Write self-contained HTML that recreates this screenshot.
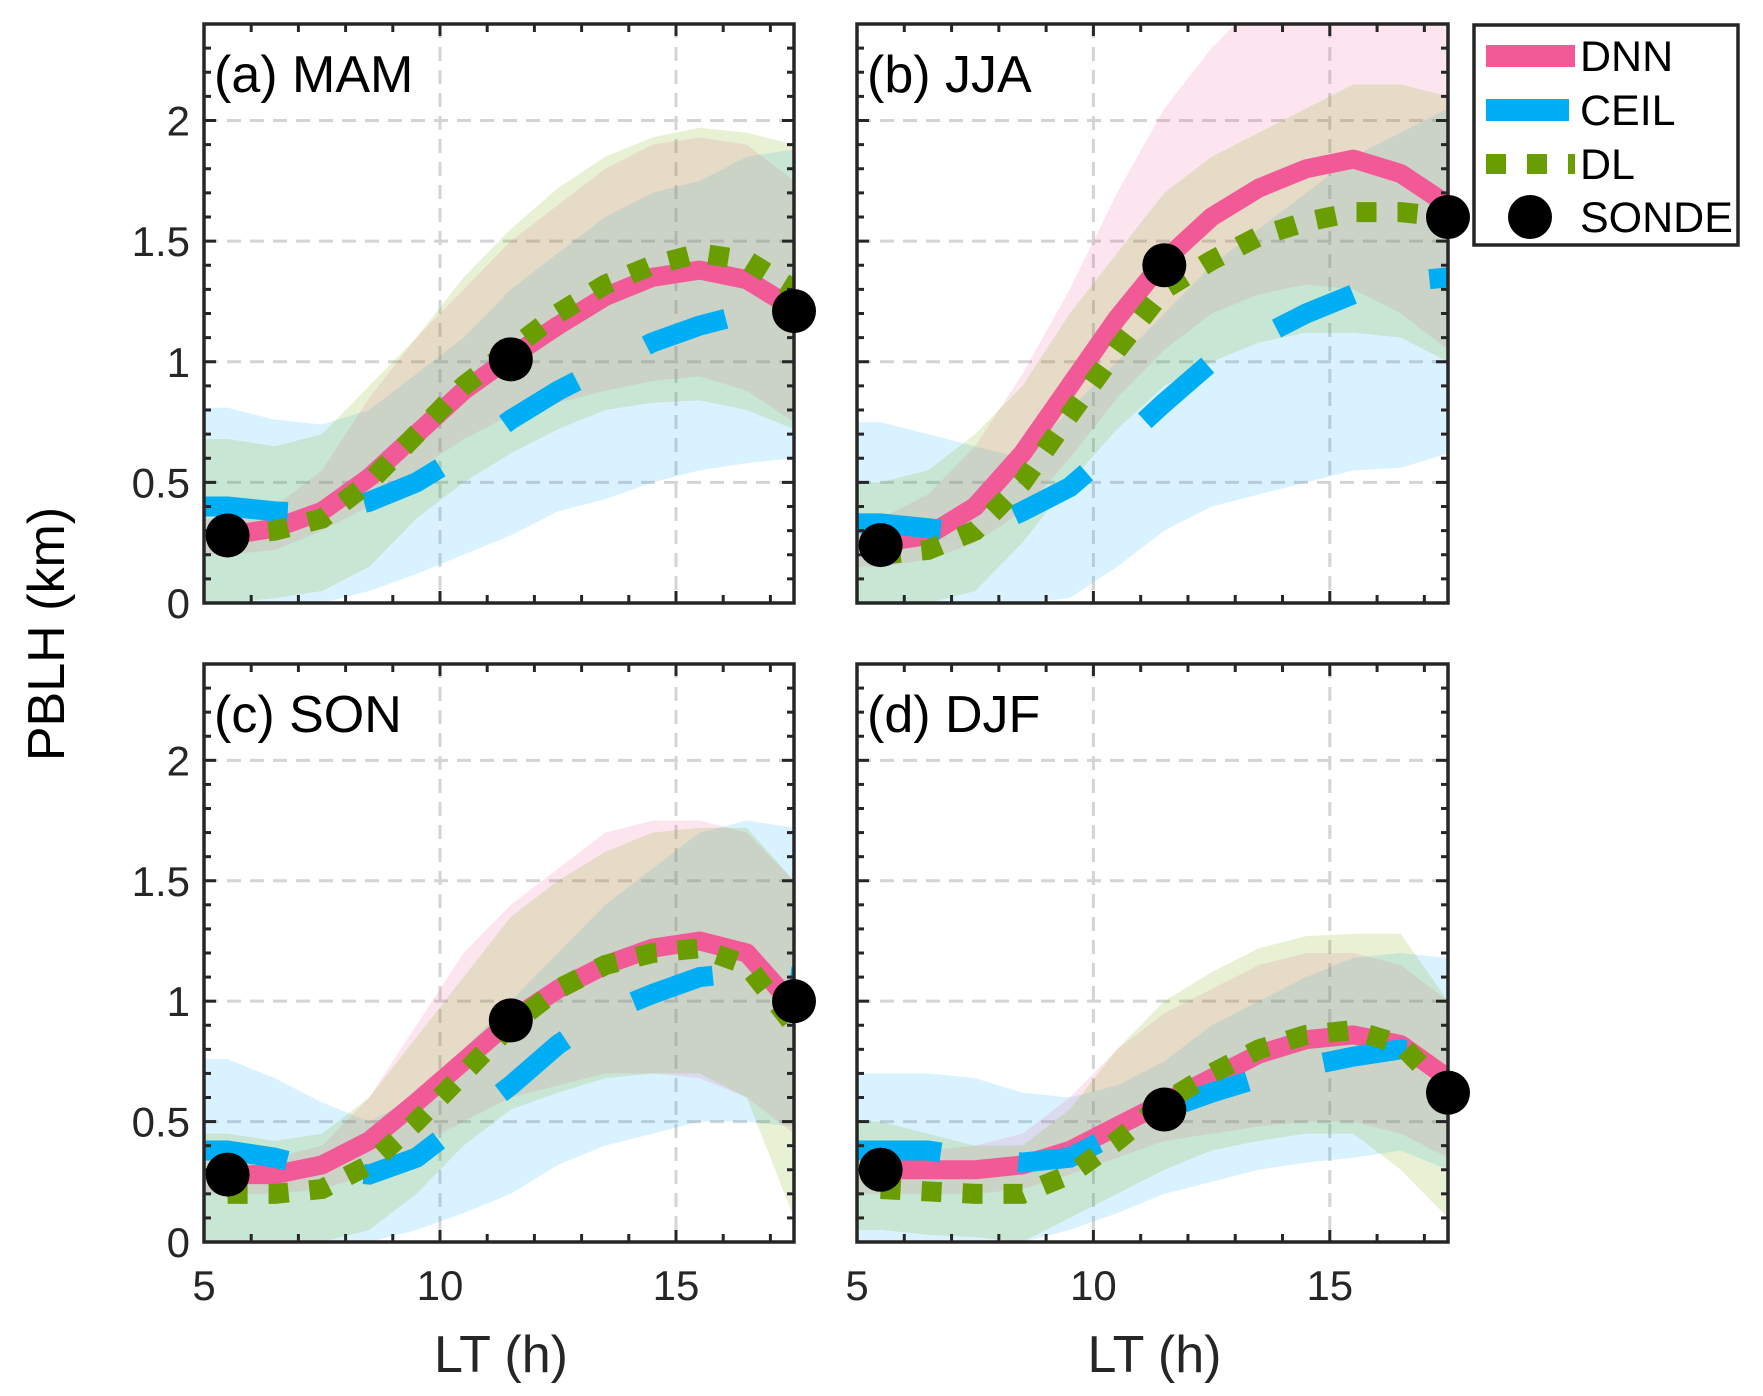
<!DOCTYPE html>
<html><head><meta charset="utf-8">
<style>
html,body{margin:0;padding:0;background:#fff;}
svg{display:block;font-family:"Liberation Sans",Arial,sans-serif;}
</style></head>
<body>
<svg id="chart" width="1763" height="1396" viewBox="0 0 1763 1396" xmlns="http://www.w3.org/2000/svg"></svg>
<script>
const hours = [5.5,6.5,7.5,8.5,9.5,10.5,11.5,12.5,13.5,14.5,15.5,16.5,17.5];
const sondeHours = [5.5,11.5,17.5];
const panelTitles = ["(a) MAM","(b) JJA","(c) SON","(d) DJF"];
const xTicks = [5,10,15];
const yTicks = [0,0.5,1,1.5,2];
const yTickLabels = ["0","0.5","1","1.5","2"];

const dnnMAM = [0.28,0.31,0.38,0.52,0.70,0.88,1.02,1.15,1.27,1.35,1.38,1.34,1.22];
const dlMAM  = [0.28,0.30,0.35,0.50,0.70,0.90,1.05,1.20,1.32,1.40,1.45,1.42,1.30];
const ceilMAM= [0.40,0.38,0.37,0.42,0.50,0.62,0.76,0.88,0.98,1.08,1.15,1.20,1.22];
const sondeMAM=[0.28,1.01,1.21];
const dnnUpMAM=[0.35,0.40,0.55,0.85,1.10,1.30,1.50,1.65,1.80,1.90,1.93,1.90,1.75];
const dnnLoMAM=[0.20,0.22,0.30,0.40,0.55,0.68,0.78,0.83,0.88,0.92,0.94,0.88,0.75];
const dlUpMAM =[0.68,0.65,0.70,0.90,1.10,1.35,1.55,1.72,1.85,1.93,1.97,1.95,1.90];
const dlLoMAM =[0.00,0.02,0.05,0.15,0.35,0.50,0.62,0.72,0.80,0.83,0.84,0.80,0.72];
const ceUpMAM =[0.81,0.76,0.74,0.80,0.95,1.10,1.30,1.45,1.60,1.70,1.75,1.85,1.88];
const ceLoMAM =[0.00,0.00,0.00,0.05,0.12,0.20,0.28,0.38,0.43,0.50,0.55,0.58,0.60];

const dnnJJA = [0.25,0.28,0.40,0.62,0.90,1.18,1.42,1.60,1.72,1.80,1.84,1.78,1.65];
const dlJJA  = [0.20,0.22,0.30,0.50,0.78,1.05,1.30,1.42,1.52,1.58,1.62,1.62,1.60];
const ceilJJA= [0.33,0.31,0.29,0.38,0.48,0.65,0.83,1.00,1.10,1.20,1.28,1.33,1.35];
const sondeJJA=[0.24,1.40,1.60];
const dnnUpJJA=[0.35,0.45,0.65,0.95,1.30,1.70,2.05,2.30,2.50,2.60,2.60,2.60,2.60];
const dnnLoJJA=[0.15,0.18,0.25,0.38,0.60,0.85,1.05,1.20,1.28,1.32,1.30,1.20,1.05];
const dlUpJJA =[0.50,0.55,0.70,0.90,1.20,1.45,1.70,1.85,1.95,2.05,2.15,2.15,2.10];
const dlLoJJA =[0.00,0.00,0.05,0.25,0.50,0.72,0.90,1.00,1.08,1.12,1.12,1.10,1.00];
const ceUpJJA =[0.75,0.70,0.65,0.60,0.80,1.00,1.20,1.40,1.55,1.70,1.85,1.95,2.05];
const ceLoJJA =[0.00,0.00,0.00,0.00,0.02,0.15,0.30,0.40,0.45,0.50,0.55,0.56,0.62];

const dnnSON = [0.28,0.28,0.32,0.42,0.58,0.75,0.92,1.05,1.15,1.22,1.25,1.20,0.98];
const dlSON  = [0.20,0.20,0.22,0.32,0.50,0.70,0.90,1.05,1.15,1.20,1.22,1.15,0.90];
const ceilSON= [0.38,0.35,0.30,0.28,0.35,0.50,0.65,0.82,0.95,1.03,1.10,1.12,1.10];
const sondeSON=[0.28,0.92,1.00];
const dnnUpSON=[0.35,0.35,0.40,0.60,0.90,1.20,1.40,1.55,1.70,1.75,1.75,1.70,1.50];
const dnnLoSON=[0.20,0.20,0.22,0.28,0.40,0.50,0.60,0.65,0.70,0.70,0.68,0.60,0.45];
const dlUpSON =[0.45,0.42,0.45,0.60,0.85,1.10,1.35,1.50,1.62,1.70,1.72,1.72,1.50];
const dlLoSON =[0.00,0.00,0.00,0.05,0.20,0.40,0.55,0.62,0.68,0.70,0.70,0.60,0.10];
const ceUpSON =[0.76,0.68,0.58,0.50,0.60,0.80,1.00,1.20,1.40,1.55,1.70,1.75,1.72];
const ceLoSON =[0.00,0.00,0.00,0.00,0.05,0.12,0.20,0.32,0.40,0.45,0.50,0.50,0.48];

const dnnDJF = [0.30,0.30,0.30,0.32,0.38,0.48,0.58,0.68,0.78,0.84,0.86,0.82,0.68];
const dlDJF  = [0.22,0.21,0.20,0.20,0.28,0.42,0.58,0.70,0.80,0.86,0.88,0.82,0.62];
const ceilDJF= [0.38,0.38,0.35,0.33,0.35,0.45,0.55,0.62,0.68,0.73,0.77,0.80,0.78];
const sondeDJF=[0.30,0.55,0.62];
const dnnUpDJF=[0.38,0.38,0.40,0.45,0.60,0.80,0.95,1.05,1.15,1.20,1.20,1.15,1.00];
const dnnLoDJF=[0.20,0.20,0.20,0.22,0.28,0.35,0.42,0.45,0.48,0.50,0.50,0.45,0.35];
const dlUpDJF =[0.50,0.45,0.40,0.40,0.55,0.80,1.00,1.12,1.22,1.27,1.28,1.28,1.00];
const dlLoDJF =[0.05,0.03,0.02,0.00,0.10,0.20,0.30,0.38,0.42,0.45,0.45,0.30,0.10];
const ceUpDJF =[0.70,0.70,0.68,0.62,0.60,0.65,0.75,0.90,1.00,1.10,1.18,1.20,1.18];
const ceLoDJF =[0.00,0.00,0.00,0.00,0.05,0.12,0.20,0.25,0.30,0.33,0.35,0.38,0.30];

const NS="http://www.w3.org/2000/svg";
const svg=document.getElementById('chart');
function mk(tag,attrs,parent){const e=document.createElementNS(NS,tag);for(const k in attrs)e.setAttribute(k,attrs[k]);(parent||svg).appendChild(e);return e;}

const panels=[
 {x0:204,x1:794,y0:24,y1:603,dnn:dnnMAM,dl:dlMAM,ce:ceilMAM,so:sondeMAM,bands:[[ceUpMAM,ceLoMAM],[dnnUpMAM,dnnLoMAM],[dlUpMAM,dlLoMAM]],left:true,bottom:false},
 {x0:857,x1:1448,y0:24,y1:603,dnn:dnnJJA,dl:dlJJA,ce:ceilJJA,so:sondeJJA,bands:[[ceUpJJA,ceLoJJA],[dnnUpJJA,dnnLoJJA],[dlUpJJA,dlLoJJA]],left:false,bottom:false},
 {x0:204,x1:794,y0:664,y1:1242,dnn:dnnSON,dl:dlSON,ce:ceilSON,so:sondeSON,bands:[[ceUpSON,ceLoSON],[dnnUpSON,dnnLoSON],[dlUpSON,dlLoSON]],left:true,bottom:true},
 {x0:857,x1:1448,y0:664,y1:1242,dnn:dnnDJF,dl:dlDJF,ce:ceilDJF,so:sondeDJF,bands:[[ceUpDJF,ceLoDJF],[dnnUpDJF,dnnLoDJF],[dlUpDJF,dlLoDJF]],left:false,bottom:true}
];
const bandColors=["rgba(0,170,255,0.15)","rgba(240,80,150,0.15)","rgba(120,170,0,0.17)"];
const bandNames=["ceil-range-band","dnn-range-band","dl-range-band"];

panels.forEach((p,i)=>{
  const X=v=>p.x0+(v-5)/(17.5-5)*(p.x1-p.x0);
  const Y=v=>p.y1-(v/2.4)*(p.y1-p.y0);
  const g=mk('g',{});
  
  
  mk('clipPath',{id:'clip'+i},g);
  mk('rect',{x:p.x0,y:p.y0,width:p.x1-p.x0,height:p.y1-p.y0},g.lastChild);
  xTicks.slice(1).forEach(t=>{const l=mk('line',{x1:X(t),x2:X(t),y1:p.y0,y2:p.y1,stroke:'#d4d4d4','stroke-width':3,'stroke-dasharray':'14 9'},g);});
  yTicks.slice(1).forEach(t=>{const l=mk('line',{x1:p.x0,x2:p.x1,y1:Y(t),y2:Y(t),stroke:'#d4d4d4','stroke-width':3,'stroke-dasharray':'14 9'},g);});
  const cg=mk('g',{'clip-path':'url(#clip'+i+')'},g);
  p.bands.forEach((b,k)=>{
    let d='M'+p.x0+','+Y(b[0][0]);
    d+=hours.map((h,j)=>'L'+X(h)+','+Y(b[0][j])).join('');
    for(let j=hours.length-1;j>=0;j--)d+='L'+X(hours[j])+','+Y(b[1][j]);
    d+='L'+p.x0+','+Y(b[1][0]);
    const e=mk('path',{d:d+'Z',fill:bandColors[k]},cg);
    
    
  });
  const line=(arr,attrs,name,fromEdge)=>{let d=hours.map((h,j)=>(j?'L':'M')+X(h)+','+Y(arr[j])).join('');if(fromEdge)d='M'+p.x0+','+Y(arr[0])+'L'+d.slice(1);const e=mk('path',Object.assign({d:d,fill:'none'},attrs),cg);};
  line(p.dnn,{stroke:'#F25A97','stroke-width':19,'stroke-linejoin':'round'},'dnn-line',false);
  line(p.ce,{stroke:'#00AEF5','stroke-width':20,'stroke-dasharray':'84 78'},'ceil-line',true);
  line(p.dl,{stroke:'#6A9E00','stroke-width':20,'stroke-dasharray':'20 21'},'dl-line',false);
  const bx=mk('rect',{x:p.x0,y:p.y0,width:p.x1-p.x0,height:p.y1-p.y0,fill:'none',stroke:'#262626','stroke-width':3.5},g);
  
  for(let h=6;h<=17;h++){const L=(h%5===0)?12:8;mk('line',{x1:X(h),x2:X(h),y1:p.y1,y2:p.y1-L,stroke:'#262626','stroke-width':3},g);mk('line',{x1:X(h),x2:X(h),y1:p.y0,y2:p.y0+L,stroke:'#262626','stroke-width':3},g);}
  for(let k=1;k<24;k++){const v=k/10;const L=(k%5===0)?12:7;mk('line',{x1:p.x0,x2:p.x0+L,y1:Y(v),y2:Y(v),stroke:'#262626','stroke-width':3},g);mk('line',{x1:p.x1,x2:p.x1-L,y1:Y(v),y2:Y(v),stroke:'#262626','stroke-width':3},g);}
  p.so.forEach((v,j)=>{const c=mk('circle',{cx:X(sondeHours[j]),cy:Y(v),r:22,fill:'#000'},g);});
  const t=mk('text',{x:p.x0+10,y:p.y0+68,'font-size':52,fill:'#000'},g);t.textContent=panelTitles[i];
  
  if(p.left){yTicks.forEach((v,j)=>{const e=mk('text',{x:p.x0-14,y:Y(v)+15,'font-size':42,'text-anchor':'end',fill:'#262626'},g);e.textContent=yTickLabels[j];});}
  if(p.bottom){xTicks.forEach(v=>{const e=mk('text',{x:X(v),y:p.y1+58,'font-size':42,'text-anchor':'middle',fill:'#262626'},g);e.textContent=v;});
    const xl=mk('text',{x:(p.x0+p.x1)/2+2,y:1372,'font-size':52,'text-anchor':'middle',fill:'#262626'},g);xl.textContent='LT (h)';}
});
const yl=mk('text',{x:0,y:0,'font-size':52,'text-anchor':'middle',fill:'#000',transform:'translate(64,634) rotate(-90)'});
yl.textContent='PBLH (km)';


const lg=mk('g',{});


mk('rect',{x:1474,y:25,width:264,height:220,fill:'#fff',stroke:'#262626','stroke-width':3.5},lg);
const legNames=['DNN','CEIL','DL','SONDE'];
const legY=[56,110,164,217];
legNames.forEach((n,k)=>{
  const y=legY[k];
  if(k===0)mk('line',{x1:1486,x2:1575,y1:y,y2:y,stroke:'#F25A97','stroke-width':22},lg);
  if(k===1)mk('line',{x1:1486,x2:1569,y1:y,y2:y,stroke:'#00AEF5','stroke-width':22},lg);
  if(k===2)mk('line',{x1:1486,x2:1575,y1:y,y2:y,stroke:'#6A9E00','stroke-width':20,'stroke-dasharray':'20 21'},lg);
  if(k===3)mk('circle',{cx:1530,cy:y,r:22,fill:'#000'},lg);
  const e=mk('text',{x:1580,y:y+15,'font-size':43,fill:'#000'},lg);e.textContent=n;
  
  
});
</script>
</body></html>
